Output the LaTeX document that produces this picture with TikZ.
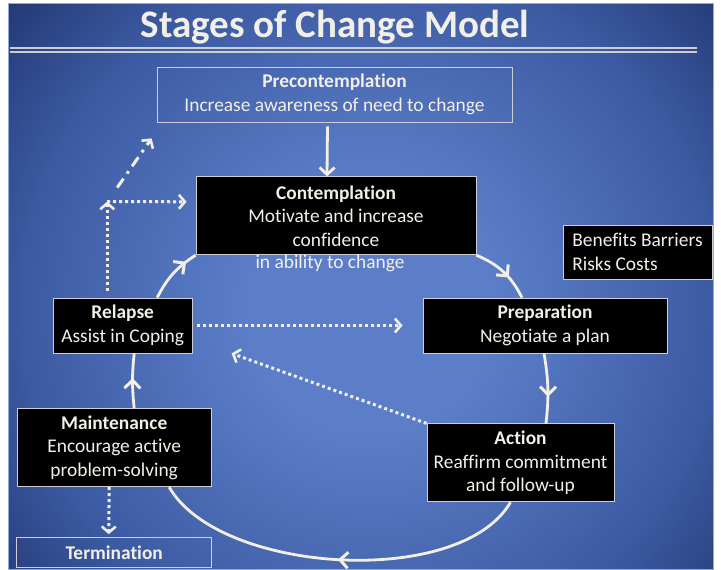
\documentclass[tikz,border=0pt]{standalone}
\usepackage{fontspec}
\setmainfont{Carlito}[Ligatures=NoCommon]
\usetikzlibrary{positioning, arrows.meta, decorations.markings, calc}

\definecolor{bgdark}{RGB}{30,48,104}
\definecolor{bgmid}{RGB}{60,90,162}
\definecolor{bglight}{RGB}{92,126,201}
\definecolor{ink}{RGB}{242,240,230}
\definecolor{rim}{RGB}{205,205,212}
\definecolor{edge}{RGB}{140,172,218}

\pgfdeclareradialshading{slide}{\pgfpoint{0bp}{0bp}}{%
    color(0bp)=(bglight); color(6bp)=(bglight);
    color(17bp)=(bgmid); color(25bp)=(bgdark); color(50bp)=(bgdark)}

\begin{document}
\begin{tikzpicture}[
    x=1pt, y=1pt,
    font=\fontsize{19.4}{23.5}\selectfont,
    box/.style={
        rectangle, draw=rim, line width=0.8pt,
        text=ink, align=center, inner sep=0pt,
    },
    stage/.style={box, fill=black},
    title/.style={font=\fontsize{39}{44}\selectfont\bfseries, text=ink},
    flow/.style={draw=ink, line width=2.8pt},
    tip/.style={-{Straight Barb[length=7pt, width=15pt, line width=2.8pt]}},
    midarrow/.style={postaction={decorate, decoration={markings,
        mark=at position #1 with {\arrow{Straight Barb[length=8pt, width=16pt, line width=3pt]}}}}},
    dotflow/.style={flow, line width=3pt, dash pattern=on 3pt off 3pt,
        -{Straight Barb[length=6pt, width=14pt, line width=2.6pt]}},
    dashflow/.style={dotflow, dash pattern=on 11pt off 6pt on 3pt off 6pt},
    rule/.style={draw=rim, line width=1.4pt},
]

% --- Slide background ---
\useasboundingbox (0,0) rectangle (721,570);
\fill[white] (0,0) rectangle (721,570);
\begin{scope}
    \clip (8,0) rectangle (713,566);
    \shade[shading=slide] (370,260) circle (510);
\end{scope}
\draw[edge, line width=1pt] (8,0) rectangle (713,566);

% --- Title ---
\node[title, anchor=base] (head) at (335,532) {Stages of Change Model};
\draw[rule] (10,522) -- (697,522);
\draw[rule] (10,518) -- (697,518);

% --- Stages ---
\node[box, minimum width=355pt, minimum height=55pt] (pre) at (334.5,475.5)
    {\textbf{Precontemplation}\\Increase awareness of need to change};
\node[stage, minimum width=280pt, minimum height=78pt, below=54pt of pre, xshift=1.5pt] (con)
    {\textbf{Contemplation}\\Motivate and increase\\confidence};
\node[text=ink, inner sep=0pt, below=0pt of con, xshift=-6pt] (conx) {in ability to change};
\node[stage, minimum width=244pt, minimum height=55pt] (prep) at (545,244.5)
    {\textbf{Preparation}\\Negotiate a plan};
\node[stage, minimum width=139pt, minimum height=55pt, left=230pt of prep] (rel)
    {\textbf{Relapse}\\Assist in Coping};
\node[stage, minimum width=187pt, minimum height=78pt, below=70pt of prep, xshift=-24.5pt] (act)
    {\textbf{Action}\\Reaffirm commitment\\and follow-up};
\node[stage, minimum width=194pt, minimum height=78pt, below=55pt of rel, xshift=-8.5pt] (main)
    {\textbf{Maintenance}\\Encourage active\\problem-solving};
\node[box, minimum width=195pt, minimum height=30pt, below=50pt of main] (term)
    {\textbf{Termination}};
\node[stage, align=left, minimum width=149pt, minimum height=54pt] (ben) at (637.5,318)
    {Benefits Barriers\\Risks Costs};

% --- Cycle ---
\draw[flow, tip] ([xshift=-7pt, yshift=-4pt]pre.south) -- ([xshift=-9pt]con.north);
\draw[flow, midarrow=0.62] (con.south east) to[bend left=20] ([xshift=-23pt]prep.north);
\draw[flow, midarrow=0.62] ([xshift=-1pt]prep.south) to[bend left=8] ([xshift=25.5pt]act.north);
\draw[flow, midarrow=0.5] ([xshift=-10pt]act.south) to[out=-120, in=-60, looseness=0.75] ([xshift=55pt]main.south);
\draw[flow, midarrow=0.55] ([xshift=20pt]main.north) to[bend left=6] ([xshift=11.5pt]rel.south);
\draw[flow, midarrow=0.8] ([xshift=34.5pt]rel.north) to[bend left=15] (con.south west);

% --- Dotted moves ---
\coordinate (turn) at ($(rel.north)+(-15.5,96)$);
\draw[dotflow] ([xshift=4pt]rel.east) -- ([xshift=-20pt]prep.west);
\draw[dotflow] (act.north west) -- ([xshift=39pt]rel.south east);
\draw[dotflow] ([xshift=-15.5pt, yshift=7pt]rel.north) -- (turn);
\draw[dotflow] (turn) -- ([xshift=-9pt, yshift=14pt]con.west);
\draw[dashflow] ([shift={(10pt,14pt)}]turn) -- ([shift={(-5pt,-16pt)}]pre.south west);
\draw[dotflow] ([xshift=-5pt]main.south) -- ([xshift=-5.5pt, yshift=3pt]term.north);

\end{tikzpicture}
\end{document}
